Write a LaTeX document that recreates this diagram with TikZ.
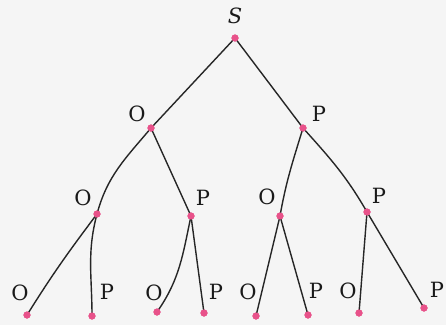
\documentclass[tikz,border=0pt]{standalone}
\usepackage{fontspec}
\setmainfont{DejaVu Serif}
\begin{document}
\begin{tikzpicture}[x=1pt,y=-1pt,
  vdot/.style={circle,fill=dotpink,inner sep=0pt,minimum size=7pt},
  lbl/.style={font=\fontsize{21}{22}\selectfont,text=black!90,inner sep=0pt},
  edge/.style={draw=black!85,line width=1.4pt}]
\definecolor{dotpink}{HTML}{E8528A}
\fill[black!4] (0,0) rectangle (446,325);
\useasboundingbox (0,0) rectangle (446,325);
% vertices
\node[vdot] (s) at (235,38) {};
\node[vdot] (o1) at (151,128) {};
\node[vdot] (p1) at (303,128) {};
\node[vdot] (oo) at (97,214) {};
\node[vdot] (op) at (191,216) {};
\node[vdot] (po) at (280,216) {};
\node[vdot] (pp) at (367,212) {};
\node[vdot] (ooo) at (27,315) {};
\node[vdot] (oop) at (92,316) {};
\node[vdot] (opo) at (157,312) {};
\node[vdot] (opp) at (204,313) {};
\node[vdot] (poo) at (256,316) {};
\node[vdot] (pop) at (308,315) {};
\node[vdot] (ppo) at (359,313) {};
\node[vdot] (ppp) at (424,308) {};
% labels
\node[lbl] (ls) at (235,16) {\itshape S};
\node[lbl] (lo1) at (137,114) {O};
\node[lbl] (lp1) at (319,114) {P};
\node[lbl] (loo) at (83,198) {O};
\node[lbl] (lop) at (203,198) {P};
\node[lbl] (lpo) at (267,197) {O};
\node[lbl] (lpp) at (379,196) {P};
\node[lbl] (looo) at (20,293) {O};
\node[lbl] (loop) at (107,292) {P};
\node[lbl] (lopo) at (154,293) {O};
\node[lbl] (lopp) at (216,292) {P};
\node[lbl] (lpoo) at (248,292) {O};
\node[lbl] (lpop) at (316,291) {P};
\node[lbl] (lppo) at (348,291) {O};
\node[lbl] (lppp) at (437,290) {P};
% edges
\draw[edge] (s.center) -- (o1.center);
\draw[edge] (s.center) -- (p1.center);
\draw[edge] (o1.center) to[out=-130,in=75] (oo.center);
\draw[edge] (o1.center) -- (op.center);
\draw[edge] (p1.center) to[out=-107,in=80] (po.center);
\draw[edge] (p1.center) to[out=-48,in=120] (pp.center);
\draw[edge] (oo.center) to[out=-127,in=58] (ooo.center);
\draw[edge] (oo.center) to[out=-105,in=90] (oop.center);
\draw[edge] (op.center) to[out=-102,in=55] (opo.center);
\draw[edge] (op.center) -- (opp.center);
\draw[edge] (po.center) -- (poo.center);
\draw[edge] (po.center) -- (pop.center);
\draw[edge] (pp.center) -- (ppo.center);
\draw[edge] (pp.center) -- (ppp.center);
% redraw dots on top
\foreach \n in {s,o1,p1,oo,op,po,pp,ooo,oop,opo,opp,poo,pop,ppo,ppp}
  \fill[dotpink] (\n) circle (3.6pt);
\end{tikzpicture}
\end{document}
